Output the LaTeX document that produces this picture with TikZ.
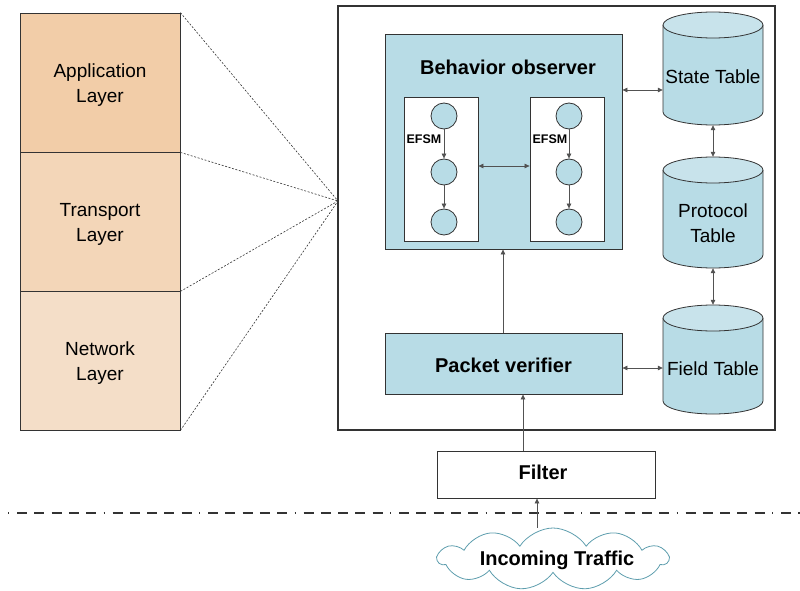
\documentclass[tikz,border=0pt]{standalone}
\usepackage{fontspec}
\setmainfont{Liberation Sans}
\usetikzlibrary{shapes.symbols,arrows.meta}
\definecolor{appc}{HTML}{F2CDA8}
\definecolor{trc}{HTML}{F3D6B8}
\definecolor{netc}{HTML}{F4DEC8}
\definecolor{bluec}{HTML}{B8DCE6}
\definecolor{bluetop}{HTML}{C8E3EB}
\definecolor{linec}{HTML}{333333}
\definecolor{cloudc}{HTML}{5E9EAE}
\tikzset{
  reg/.style={font=\fontsize{19}{25}\selectfont},
  bld/.style={font=\fontsize{20}{24}\selectfont\bfseries},
  layerbox/.style={draw=linec, line width=0.8pt, minimum width=160, minimum height=139, inner sep=0, align=center, reg},
  bluebox/.style={draw=linec, line width=0.8pt, fill=bluec, inner sep=0},
  whitebox/.style={draw=linec, line width=0.8pt, fill=white, minimum width=74, minimum height=144, inner sep=0},
  st/.style={circle, draw=linec, line width=0.8pt, fill=bluec, minimum size=26, inner sep=0},
  conn/.style={draw=linec!85, line width=0.7pt},
  tip/.style={-{Triangle[length=5pt,width=4.5pt]}},
  tips/.style={{Triangle[length=5pt,width=4.5pt]}-{Triangle[length=5pt,width=4.5pt]}},
  dots/.style={draw=linec, line width=0.6pt, dash pattern=on 2pt off 1.6pt},
  cylbody/.style={minimum width=100, inner sep=0, align=center, reg},
  efsm/.style={font=\fontsize{12.5}{14}\selectfont\bfseries, inner sep=0},
}
\newcommand{\mycyl}[4]{% name, x center, ytop, ybottom
  \node[cylbody, minimum height={#4-#3}] (#1) at (#2,{(#3+#4)/2}) {};
  \fill[bluec] (#2-50,#3+13) -- (#2-50,#4-13) arc[start angle=180,end angle=360,x radius=50,y radius=-13] -- (#2+50,#3+13) -- cycle;
  \draw[linec, line width=0.8pt] (#2-50,#3+13) -- (#2-50,#4-13) arc[start angle=180,end angle=360,x radius=50,y radius=-13] -- (#2+50,#3+13);
  \draw[linec, line width=0.8pt, fill=bluetop] (#2,#3+13) ellipse[x radius=50, y radius=13];
}
\begin{document}
\begin{tikzpicture}[x=1pt,y=-1pt]
\useasboundingbox (0,0) rectangle (800,591);
% layers
\node[layerbox, fill=appc] (app) at (100,82.5) {};
\node[layerbox, fill=trc] (tra) at (100,221.5) {};
\node[layerbox, fill=netc] (net) at (100,360.5) {};
\node[reg, align=center] (appt) at (100,85) {Application\\Layer};
\node[reg, align=center] (trat) at (100,224) {Transport\\Layer};
\node[reg, align=center] (nett) at (100,363) {Network\\Layer};
% main box
\node[draw=linec, line width=1.8pt, minimum width=437, minimum height=424, inner sep=0] (main) at (556.5,218) {};
\coordinate (focus) at (338,201);
\draw[dots] (app.north east) -- (focus);
\draw[dots] (app.south east) -- (focus);
\draw[dots] (tra.south east) -- (focus);
\draw[dots] (net.south east) -- (focus);
% behavior observer
\node[bluebox, minimum width=237, minimum height=215] (bo) at (503.5,141.5) {};
\node[bld] (botitle) at (508,67) {Behavior observer};
\node[whitebox] (w1) at (441,169) {};
\node[whitebox] (w2) at (567,169) {};
\node[st] (a1) at (444,116) {};
\node[st] (a2) at (444,172) {};
\node[st] (a3) at (444,222) {};
\node[st] (b1) at (569,116) {};
\node[st] (b2) at (569,172) {};
\node[st] (b3) at (569,222) {};
\draw[conn, tip] (a1) -- (a2);
\draw[conn, tip] (a2) -- (a3);
\draw[conn, tip] (b1) -- (b2);
\draw[conn, tip] (b2) -- (b3);
\node[efsm] (e1) at (424,139) {EFSM};
\node[efsm] (e2) at (550,139) {EFSM};
\draw[conn, tips] (w1.east |- 0,166) -- (w2.west |- 0,166);
% packet verifier
\node[bluebox, minimum width=237, minimum height=61] (pv) at (503.5,363.5) {};
\node[bld] (pvt) at (503.5,365) {Packet verifier};
\draw[conn, tip] (pv.north -| 503,0) -- (bo.south -| 503,0);
% cylinders
\mycyl{stt}{713}{12}{125}
\mycyl{ptt}{713}{157}{268}
\mycyl{ftt}{713}{305}{414}
\node[reg] at (713,77) {State Table};
\node[reg, align=center] at (713,223) {Protocol\\Table};
\node[reg] at (713,369) {Field Table};
\draw[conn, tips] (bo.east |- 0,90) -- (stt.west |- 0,90);
\draw[conn, tips] (pv.east |- 0,368) -- (ftt.west |- 0,368);
\draw[conn, tips] (stt.south) -- (ptt.north);
\draw[conn, tips] (ptt.south) -- (ftt.north);
% filter
\node[draw=linec, line width=0.8pt, fill=white, minimum width=218, minimum height=47, inner sep=0] (flt) at (546,474.5) {};
\node[bld] (fltt) at (543,472) {Filter};
\draw[conn, tip] (flt.north -| 523,0) -- (pv.south -| 523,0);
% dashed line
\coordinate (dl) at (8,513);
\coordinate (dr) at (800,513);
\draw[linec, line width=2pt, dash pattern=on 1pt off 8pt on 10pt off 7.3pt on 10pt off 7.3pt on 10pt off 7.3pt on 10pt off 7.3pt on 10pt off 7.3pt] (dl) -- (dr);
% cloud
\node[cloud, cloud puffs=11, cloud puff arc=115, cloud ignores aspect, draw=cloudc, line width=0.8pt, fill=white, minimum width=230, minimum height=62, inner sep=0] (cl) at (553,559) {};
\node[bld] (clt) at (557,560) {Incoming Traffic};
\draw[conn, tip] (cl.north -| 537,0) -- (flt.south -| 537,0);
\end{tikzpicture}
\end{document}
